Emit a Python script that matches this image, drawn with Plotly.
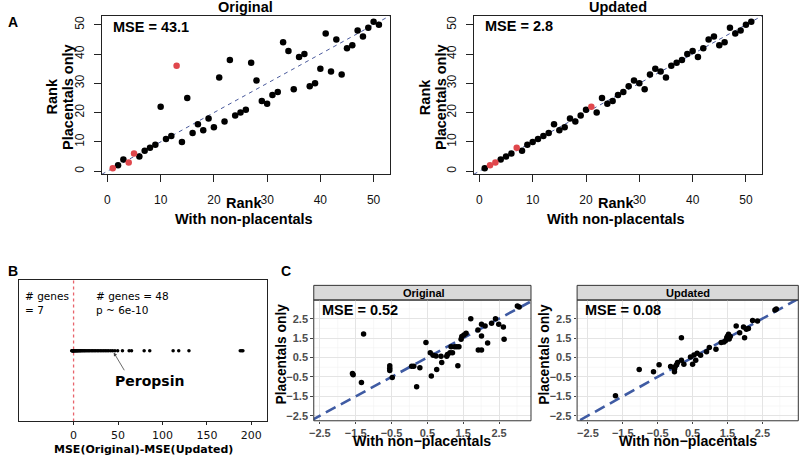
import plotly.graph_objects as go

# ---------------- data ----------------
rank_with_nonplacentals = list(range(1, 52))
rank_placentals_original = [1, 2, 4, 3, 6, 5, 7, 8, 9, 22, 11, 12, 36, 10, 25, 13, 16, 14, 18, 15,
                            32, 17, 38, 19, 20, 21, 37, 31, 24, 23, 26, 27, 44, 41, 28, 39, 40, 29,
                            30, 35, 47, 34, 45, 33, 42, 43, 48, 46, 49, 51, 50]
rank_placentals_updated = [1, 2, 3, 4, 5, 6, 8, 7, 9, 10, 11, 12, 13, 16, 14, 15, 18, 17, 19, 21,
                           22, 20, 25, 23, 24, 26, 27, 29, 31, 30, 28, 33, 35, 34, 32, 36, 37, 38,
                           40, 41, 39, 42, 45, 46, 43, 44, 49, 47, 48, 50, 51]
red_ranks_original = [1, 4, 5, 13]
red_ranks_updated = [2, 3, 7, 21]
mse_rank_original = "43.1"
mse_rank_updated = "2.8"

mse_diff = [-0.4, -1.2, -0.8, -2.1, -0.3, -1.6, -0.6,
            0.3, 0.8, 1.2, 1.7, 2.3, 2.9, 3.4, 4.1, 4.8, 5.5, 6.3, 7.2, 8.0, 9.1, 10.2,
            11.5, 12.6, 13.9, 15.3, 16.8, 18.2, 19.9, 21.5, 23.1, 24.8, 26.6, 28.3, 30.2,
            32.0, 33.9, 35.7, 37.6, 39.5, 41.8, 44.0, 46.5, 49.6, 55.0, 62.5, 65.2, 79.4,
            85.7, 112.0, 118.3, 129.8, 187.5, 189.2, 190.5]
peropsin_value = 44.0
n_neg, n_pos, p_text = 7, 48, "6e-10"

c_orig_x = [-1.59, -1.57, -1.34, -1.28, -0.55, -0.55, -0.55, -0.48, 0.06, 0.12, 0.29, 0.2,
            0.46, 0.58, 0.61, 0.66, 0.74, 0.76, 0.88, 0.9, 1.04, 1.06, 1.13, 1.16, 1.2, 1.26,
            1.32, 1.35, 1.38, 1.44, 1.46, 1.52, 1.58, 1.71, 1.91, 1.92, 2.01, 2.01, 2.01, 2.11,
            2.18, 2.29, 2.40, 2.49, 2.62, 2.64, 3.01, 3.06]
c_orig_y = [-0.33, -0.39, -0.79, 1.71, 0.07, -0.05, -0.17, -0.53, 0.05, 0.05, -0.03, -1.01,
            1.27, 0.75, -0.45, 0.62, 0.58, -0.12, 0.57, 0.24, 0.57, 0.65, 0.75, 1.06, 0.75, 1.06,
            1.06, 0.07, 1.06, 1.44, 1.58, 1.66, 1.75, 2.5, 1.92, 0.89, 0.89, 2.21, 1.61, 2.12,
            1.25, 2.26, 2.5, 2.21, 2.07, 1.44, 3.15, 3.1]
c_upd_x = [-1.71, -1.03, -0.62, -0.46, -0.13, -0.02, -0.02, 0.0, 0.04, 0.07, 0.18, 0.18, 0.25,
           0.44, 0.5, 0.54, 0.59, 0.63, 0.73, 0.9, 0.98, 1.17, 1.32, 1.4, 1.45, 1.48, 1.5, 1.53,
           1.55, 1.58, 1.75, 1.85, 1.96, 1.99, 2.04, 2.1, 2.22, 2.36, 2.86, 2.9]
c_upd_y = [-1.47, -0.12, -0.24, 0.12, 0.03, -0.1, -0.24, 0.02, 0.12, 0.24, 1.52, 0.36, 0.15,
           0.53, 0.15, 0.63, 0.36, 0.72, 0.62, 0.79, 1.01, 0.92, 1.27, 1.3, 1.38, 1.52, 1.6, 1.7,
           1.45, 1.58, 2.12, 1.78, 2.07, 1.52, 1.95, 2.0, 2.41, 2.38, 2.95, 3.0]
mse_c_original = "0.52"
mse_c_updated = "0.08"
c_ticks = [-2.5, -1.5, -0.5, 0.5, 1.5, 2.5]
c_minor = [-3, -2, -1, 0, 1, 2, 3]

# ---------------- styles ----------------
W, H = 799, 457
HEL = "Liberation Sans, Arial, sans-serif"
DJV = "DejaVu Sans, sans-serif"
RED = "#E0474C"
def px(x): return x / W
def py(y): return 1 - y / H

fig = go.Figure()

# ---------- Panel A ----------
for i, (ys, reds) in enumerate([(rank_placentals_original, red_ranks_original),
                                (rank_placentals_updated, red_ranks_updated)]):
    ax = "" if i == 0 else "2"
    fig.add_trace(go.Scatter(x=[-5, 60], y=[-5, 60], mode="lines",
                             line=dict(color="#4A5A9C", width=1, dash="4px,4px"),
                             xaxis="x" + ax, yaxis="y" + ax, showlegend=False))
    bx = [x for x in rank_with_nonplacentals if x not in reds]
    by = [ys[x - 1] for x in bx]
    rx = [x for x in rank_with_nonplacentals if x in reds]
    ry = [ys[x - 1] for x in rx]
    fig.add_trace(go.Scatter(x=bx, y=by, mode="markers",
                             marker=dict(color="black", size=6.5),
                             xaxis="x" + ax, yaxis="y" + ax, showlegend=False))
    fig.add_trace(go.Scatter(x=rx, y=ry, mode="markers",
                             marker=dict(color=RED, size=6.5),
                             xaxis="x" + ax, yaxis="y" + ax, showlegend=False))

a_axis = dict(range=[-1, 53], tickvals=[0, 10, 20, 30, 40, 50], ticks="outside", ticklen=7,
              tickcolor="#222", showline=True, linecolor="#222", linewidth=1, mirror=True,
              showgrid=False, zeroline=False, tickfont=dict(family=HEL, size=12, color="#111"))
fig.update_layout(
    xaxis=dict(a_axis, domain=[px(97.7), px(387)], anchor="y", ticklabelstandoff=7),
    yaxis=dict(a_axis, domain=[py(174.5), py(16)], anchor="x", tickangle=-90,
               ticklabelstandoff=5),
    xaxis2=dict(a_axis, domain=[px(472), px(761.7)], anchor="y2", ticklabelstandoff=7),
    yaxis2=dict(a_axis, domain=[py(174.5), py(16)], anchor="x2", tickangle=-90,
                ticklabelstandoff=5),
)

# ---------- Panel B ----------
fig.add_trace(go.Scatter(x=[0, 0], y=[-1, 1], mode="lines",
                         line=dict(color="#E8646C", width=1.3, dash="3px,3px"),
                         xaxis="x3", yaxis="y3", showlegend=False))
fig.add_trace(go.Scatter(x=mse_diff, y=[0] * len(mse_diff), mode="markers",
                         marker=dict(color="black", size=3.5),
                         xaxis="x3", yaxis="y3", showlegend=False))
fig.update_layout(
    xaxis3=dict(domain=[px(14), px(264)], anchor="y3", range=[-61.5, 218],
                tickvals=[0, 50, 100, 150, 200], ticks="outside", ticklen=3,
                tickcolor="#222", showline=True, linecolor="#222", linewidth=1, mirror=True,
                showgrid=False, zeroline=False,
                tickfont=dict(family=DJV, size=11, color="#111")),
    yaxis3=dict(domain=[py(422.3), py(280.7)], anchor="x3", range=[-1, 1],
                showticklabels=False, ticks="", showline=True, linecolor="#222",
                linewidth=1, mirror=True, showgrid=False, zeroline=False),
)

# ---------- Panel C ----------
for ax, xs, ys in [("4", c_orig_x, c_orig_y), ("5", c_upd_x, c_upd_y)]:
    fig.add_trace(go.Scatter(x=[-4, 5], y=[-4, 5], mode="lines",
                             line=dict(color="#3F5BA3", width=2.6, dash="11px,6px"),
                             xaxis="x" + ax, yaxis="y" + ax, showlegend=False))
    fig.add_trace(go.Scatter(x=xs, y=ys, mode="markers",
                             marker=dict(color="black", size=5.5),
                             xaxis="x" + ax, yaxis="y" + ax, showlegend=False))

c_axis = dict(tickvals=c_ticks, ticks="outside", ticklen=2.5, tickcolor="#444",
              showline=False, showgrid=True, gridcolor="#E4E4E4", gridwidth=1,
              zeroline=False, tickfont=dict(family=HEL, size=11, color="#4D4D4D", weight="bold"))
fig.update_layout(
    xaxis4=dict(c_axis, domain=[px(310.7), px(529.3)], anchor="y4", range=[-2.67, 3.39]),
    yaxis4=dict(c_axis, domain=[py(421.7), py(300.7)], anchor="x4", range=[-2.76, 3.46]),
    xaxis5=dict(c_axis, domain=[px(575.7), px(798.3)], anchor="y5", range=[-2.81, 3.53]),
    yaxis5=dict(c_axis, domain=[py(421.7), py(300.7)], anchor="x5", range=[-2.76, 3.46]),
)

shapes = []
# minor grid lines (ggplot theme_bw style)
for ax in ("4", "5"):
    for v in c_minor:
        shapes.append(dict(type="line", xref="x" + ax, yref="y" + ax + " domain",
                           x0=v, x1=v, y0=0, y1=1, layer="below",
                           line=dict(color="#F2F2F2", width=0.6)))
        shapes.append(dict(type="line", xref="x" + ax + " domain", yref="y" + ax,
                           x0=0, x1=1, y0=v, y1=v, layer="below",
                           line=dict(color="#F2F2F2", width=0.6)))
for (l, r) in [(310.7, 529.3), (575.7, 798.3)]:
    shapes.append(dict(type="rect", xref="paper", yref="paper", x0=px(l), x1=px(r),
                       y0=py(300.7), y1=py(286), fillcolor="#D9D9D9",
                       line=dict(color="#333", width=1), layer="below"))
    shapes.append(dict(type="rect", xref="paper", yref="paper", x0=px(l), x1=px(r),
                       y0=py(421.7), y1=py(300.7), fillcolor="rgba(0,0,0,0)",
                       line=dict(color="#333", width=1), layer="above"))

# ---------- annotations ----------
ann = []
def txt(x, y, text, size, family=HEL, bold=True, xanchor="center", angle=0, color="black"):
    ann.append(dict(xref="paper", yref="paper", x=px(x), y=py(y), text=text, showarrow=False,
                    xanchor=xanchor, yanchor="middle", textangle=angle,
                    font=dict(family=family, size=size, color=color,
                              weight="bold" if bold else "normal")))

# Panel letters
txt(1, 22, "A", 14, xanchor="left")
txt(1, 271.7, "B", 14, xanchor="left")
txt(276, 271.7, "C", 14, xanchor="left")

# Panel A titles & labels
txt(242, 7.5, "Original", 14.5)
txt(617, 7.5, "Updated", 14.5)
txt(107, 26.7, "MSE = " + mse_rank_original, 14.5, xanchor="left")
txt(481, 26.2, "MSE = " + mse_rank_updated, 14.5, xanchor="left")
for cx in (241, 614.5):
    txt(cx, 203, "Rank", 14.5)
    txt(cx, 219, "With non-placentals", 14.5)
for x1, x2 in [(47, 63.5), (422, 439)]:
    txt(x1, 97, "Rank", 14.5, angle=-90)
    txt(x2, 97, "Placentals only", 14.5, angle=-90)

# Panel B texts
txt(18, 297, "# genes", 10.5, family=DJV, bold=False, xanchor="left")
txt(18, 310.5, "= %d" % n_neg, 10.5, family=DJV, bold=False, xanchor="left")
txt(90, 297, "# genes = %d" % n_pos, 10.5, family=DJV, bold=False, xanchor="left")
txt(90, 310.5, "p ~ " + p_text, 10.5, family=DJV, bold=False, xanchor="left")
txt(145, 382, "Peropsin", 14, family=DJV, bold=True)
txt(139, 450, "MSE(Original)-MSE(Updated)", 11, family=DJV, bold=True)
ann.append(dict(xref="x3", yref="y3", x=peropsin_value, y=0, text="", showarrow=True,
                ax=12.5, ay=21, arrowhead=2, arrowsize=0.9, arrowwidth=0.8,
                arrowcolor="#444", standoff=2))

# Panel C texts
txt(422, 293.3, "Original", 11)
txt(687, 293.3, "Updated", 11)
txt(316.5, 311, "MSE = " + mse_c_original, 14.5, xanchor="left")
txt(582, 311, "MSE = " + mse_c_updated, 14.5, xanchor="left")
txt(420, 442, "With non−placentals", 14.2)
txt(687, 442, "With non−placentals", 14.2)
txt(278, 355, "Placentals only", 13.8, angle=-90)
txt(543, 355, "Placentals only", 13.8, angle=-90)

fig.update_layout(width=W, height=H, margin=dict(l=0, r=0, t=0, b=0),
                  paper_bgcolor="white", plot_bgcolor="white",
                  shapes=shapes, annotations=ann, showlegend=False)

fig.write_html("out.html", config={"displayModeBar": False},
               post_script="document.body.style.margin='0';document.body.style.overflow='hidden';")
